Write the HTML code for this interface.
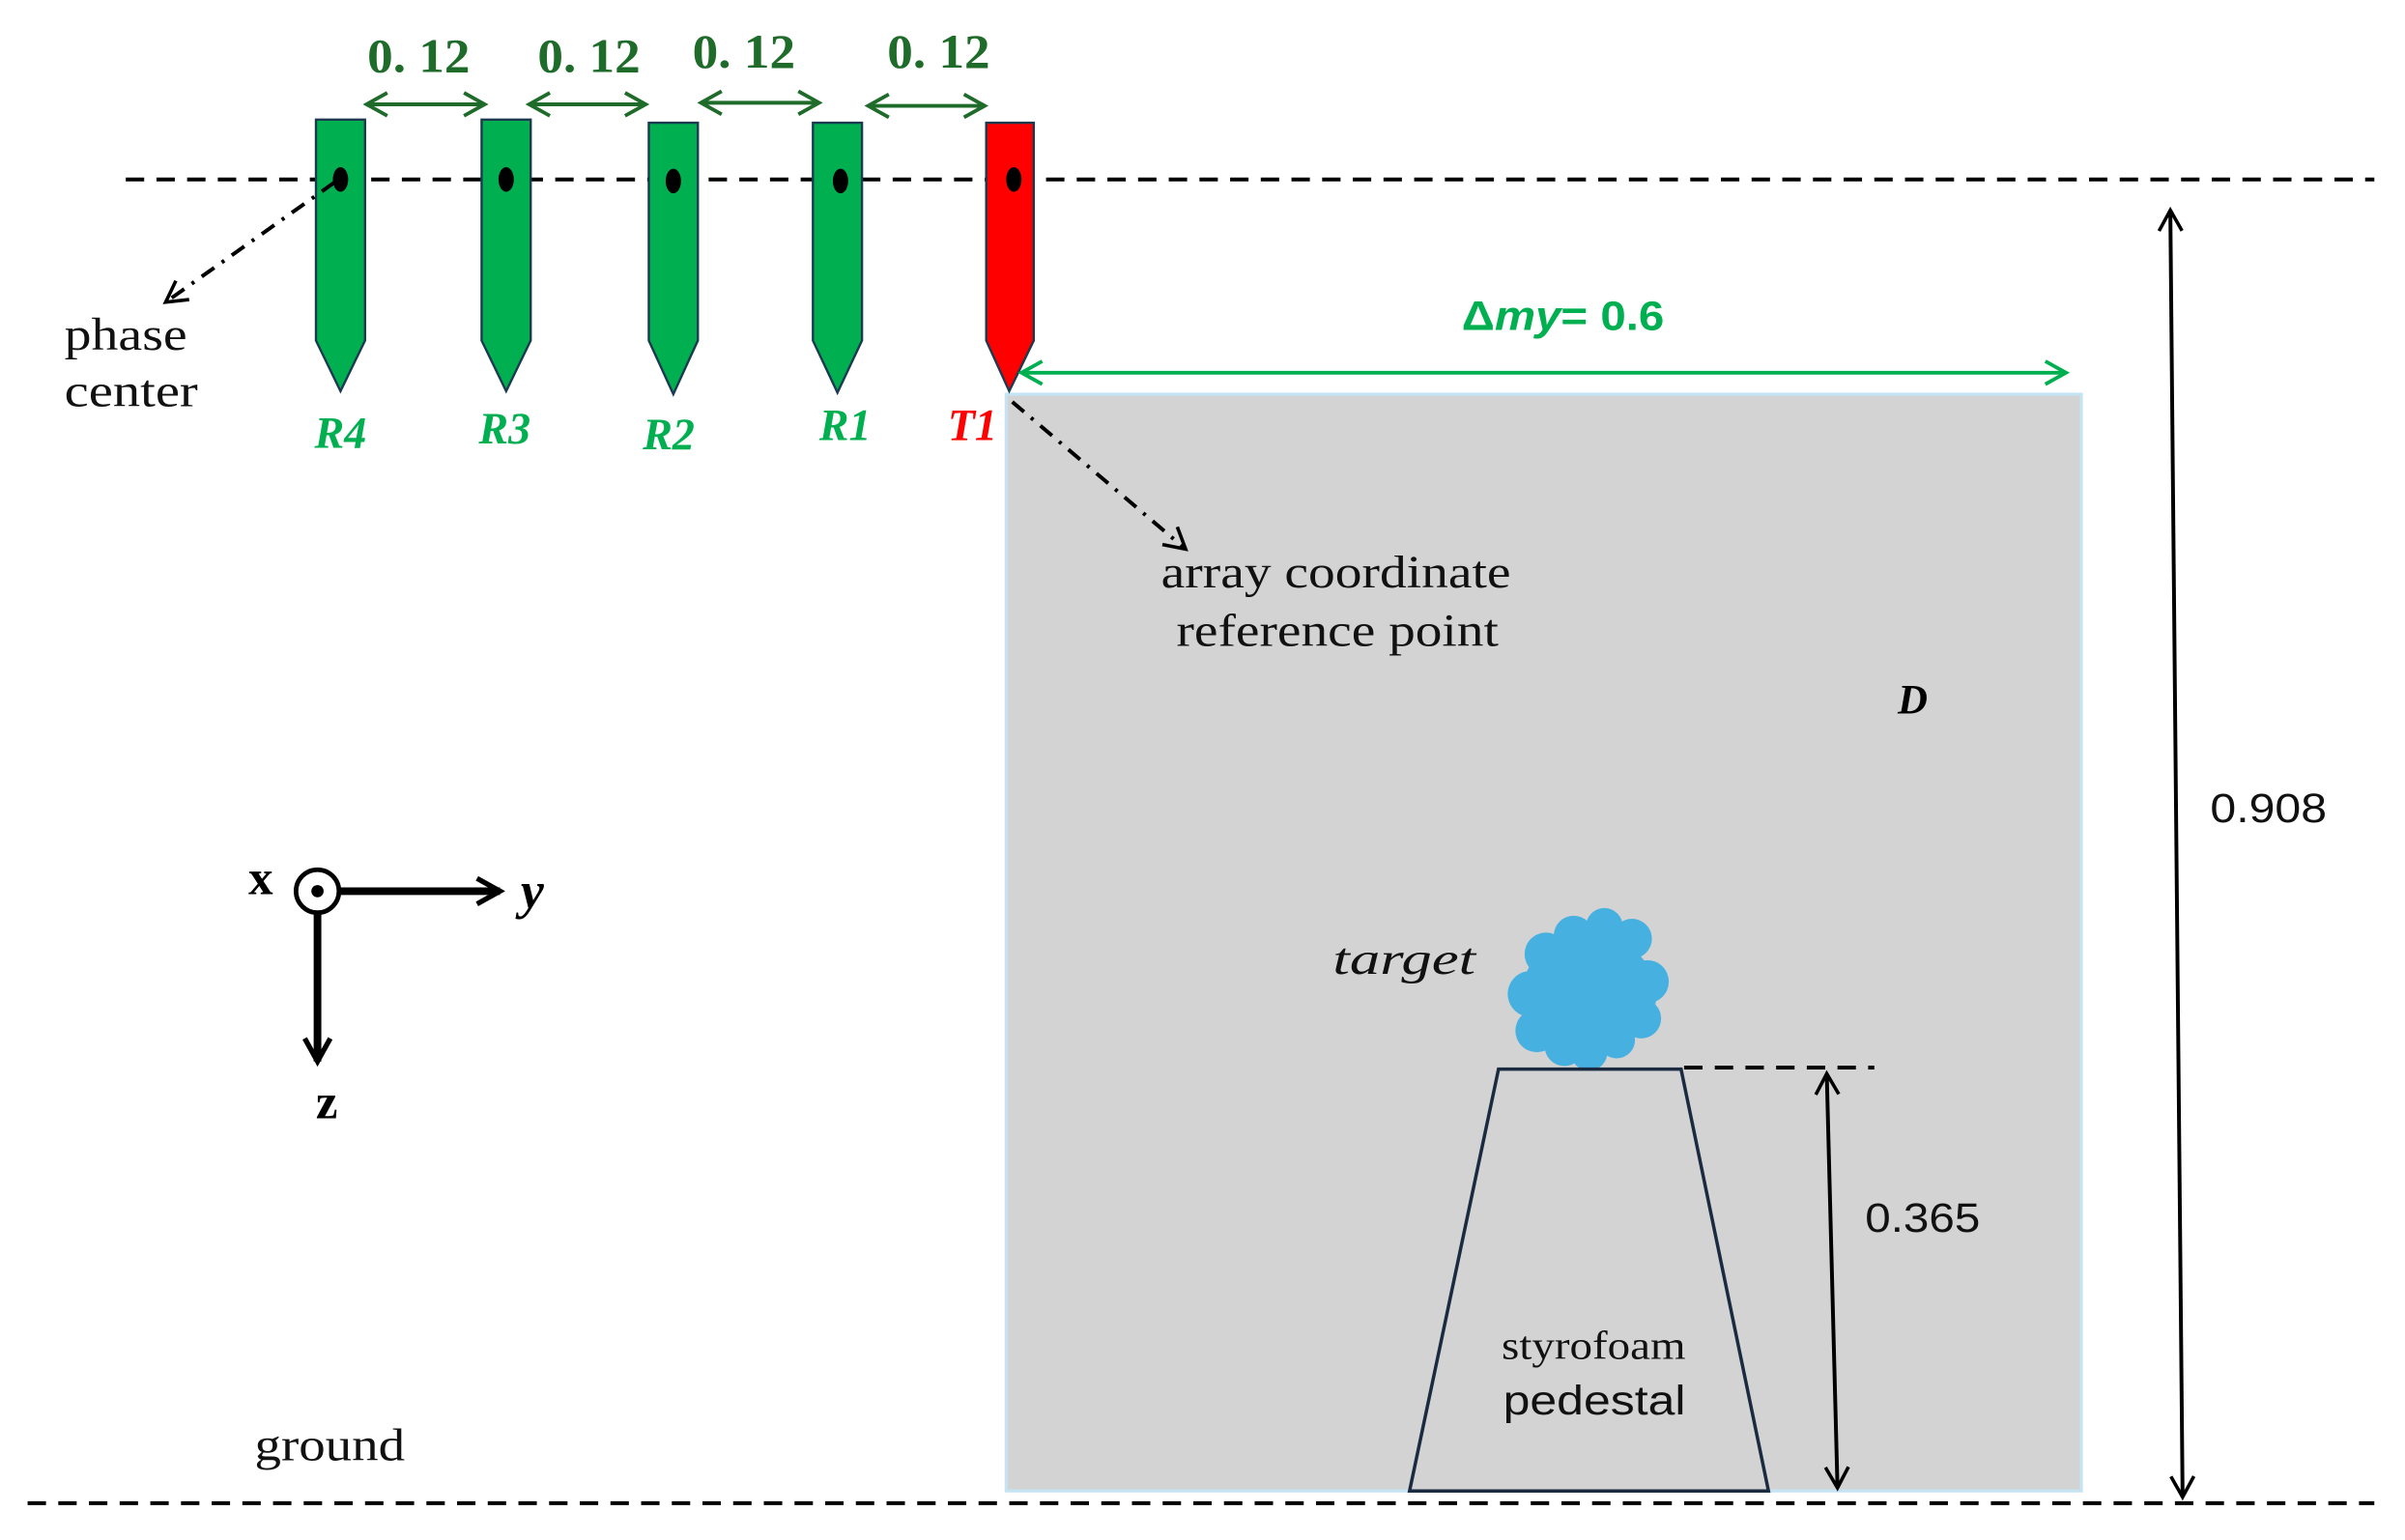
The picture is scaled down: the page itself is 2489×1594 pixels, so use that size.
<!DOCTYPE html>
<html><head><meta charset="utf-8"><style>
html,body{margin:0;padding:0;background:#fff;}
svg{display:block;}
</style></head><body>
<svg width="2489" height="1594" viewBox="0 0 1568 1004" preserveAspectRatio="none" xmlns="http://www.w3.org/2000/svg">
<defs>
<marker id="abk" viewBox="0 0 12 12" refX="10" refY="6" markerWidth="18" markerHeight="18" orient="auto-start-reverse" markerUnits="userSpaceOnUse"><path d="M1,1 L10,6 L1,11" fill="none" stroke="#000" stroke-width="1.5"/></marker>
<marker id="ag" viewBox="0 0 12 12" refX="10" refY="6" markerWidth="18" markerHeight="18" orient="auto-start-reverse" markerUnits="userSpaceOnUse"><path d="M1,1 L10,6 L1,11" fill="none" stroke="#1e6b2a" stroke-width="1.6"/></marker>
<marker id="al" viewBox="0 0 12 12" refX="10" refY="6" markerWidth="18" markerHeight="18" orient="auto-start-reverse" markerUnits="userSpaceOnUse"><path d="M1,1 L10,6 L1,11" fill="none" stroke="#00b050" stroke-width="1.6"/></marker>
<marker id="ax" viewBox="0 0 12 12" refX="10" refY="6" markerWidth="20" markerHeight="20" orient="auto" markerUnits="userSpaceOnUse"><path d="M1,1 L10,6 L1,11" fill="none" stroke="#000" stroke-width="2"/></marker>
</defs>
<rect x="656" y="257" width="701" height="715" fill="#d3d3d3" stroke="#c4e4f4" stroke-width="2"/>
<line x1="82" y1="117" x2="1548" y2="117" stroke="#000" stroke-width="2.5" stroke-dasharray="12,8"/>
<line x1="18" y1="980" x2="1548" y2="980" stroke="#000" stroke-width="2.5" stroke-dasharray="12,8"/>
<g stroke="#1b3a4f" stroke-width="1.5">
<path d="M206,78 H238 V222 L222,255 L206,222 Z" fill="#00b050"/>
<path d="M314,78 H346 V222 L330,255 L314,222 Z" fill="#00b050"/>
<path d="M423,80 H455 V222 L439,257 L423,222 Z" fill="#00b050"/>
<path d="M530,80 H562 V222 L546,256 L530,222 Z" fill="#00b050"/>
<path d="M643,80 H674 V222 L658,255 L643,222 Z" fill="#ff0000"/>
</g>
<g fill="#000">
<ellipse cx="222" cy="117" rx="5" ry="8"/><ellipse cx="330" cy="117" rx="5" ry="8"/><ellipse cx="439" cy="118" rx="5" ry="8"/><ellipse cx="548" cy="118" rx="5" ry="8"/><ellipse cx="661" cy="117" rx="5" ry="8"/>
</g>
<g stroke="#1e6b2a" stroke-width="2.5" marker-start="url(#ag)" marker-end="url(#ag)">
<line x1="239" y1="68" x2="316" y2="68"/><line x1="345" y1="68" x2="421" y2="68"/><line x1="457" y1="67" x2="534" y2="67"/><line x1="566" y1="69" x2="642" y2="69"/>
</g>
<g font-family="'Liberation Serif',serif" font-weight="bold" font-size="31" fill="#1e6b2a" text-anchor="middle" lengthAdjust="spacingAndGlyphs">
<text x="273" y="47" textLength="67" lengthAdjust="spacingAndGlyphs">0. 12</text><text x="384" y="47" textLength="67" lengthAdjust="spacingAndGlyphs">0. 12</text><text x="485" y="44" textLength="67" lengthAdjust="spacingAndGlyphs">0. 12</text><text x="612" y="44" textLength="67" lengthAdjust="spacingAndGlyphs">0. 12</text>
</g>
<g font-family="'Liberation Serif',serif" font-weight="bold" font-style="italic" font-size="29" fill="#00b050" text-anchor="middle">
<text x="222" y="292">R4</text><text x="329" y="289">R3</text><text x="436" y="293">R2</text><text x="551" y="287">R1</text><text x="634" y="287" fill="#ff0000">T1</text>
</g>
<line x1="218" y1="119" x2="108" y2="197" stroke="#000" stroke-width="2.5" stroke-dasharray="10,6,2,6" marker-end="url(#abk)"/>
<g font-family="'Liberation Serif',serif" font-size="30" fill="#111">
<text x="42" y="228" textLength="80" lengthAdjust="spacingAndGlyphs">phase</text><text x="42" y="265" textLength="87" lengthAdjust="spacingAndGlyphs">center</text>
<text x="757" y="383" textLength="228" lengthAdjust="spacingAndGlyphs">array coordinate</text><text x="767" y="421" textLength="210" lengthAdjust="spacingAndGlyphs">reference point</text>
<text x="166" y="952" textLength="98" lengthAdjust="spacingAndGlyphs">ground</text>
</g>
<text x="953" y="215" textLength="132" lengthAdjust="spacingAndGlyphs" font-family="'Liberation Sans',sans-serif" font-weight="bold" font-size="27" fill="#00b050">Δ<tspan font-style="italic">my</tspan>= 0.6</text>
<line x1="666" y1="243" x2="1347" y2="243" stroke="#00b050" stroke-width="2.5" marker-start="url(#al)" marker-end="url(#al)"/>
<line x1="660" y1="262" x2="773" y2="358" stroke="#000" stroke-width="2.5" stroke-dasharray="10,6,2,6" marker-end="url(#abk)"/>
<text x="1247" y="465" font-family="'Liberation Serif',serif" font-weight="bold" font-style="italic" font-size="27" fill="#000" text-anchor="middle">D</text>
<line x1="1415" y1="137" x2="1423" y2="976" stroke="#000" stroke-width="2.5" marker-start="url(#abk)" marker-end="url(#abk)"/>
<text x="1441" y="536" textLength="76" lengthAdjust="spacingAndGlyphs" font-family="'Liberation Sans',sans-serif" font-size="27" fill="#111">0.908</text>
<circle cx="207" cy="581" r="14" fill="none" stroke="#000" stroke-width="3"/>
<circle cx="207" cy="581" r="4" fill="#000"/>
<line x1="221" y1="581" x2="326" y2="581" stroke="#000" stroke-width="5" marker-end="url(#ax)"/>
<line x1="207" y1="595" x2="207" y2="692" stroke="#000" stroke-width="5" marker-end="url(#ax)"/>
<text x="170" y="583" font-family="'Liberation Serif',serif" font-weight="bold" font-size="32" text-anchor="middle">x</text>
<text x="347" y="592" font-family="'Liberation Serif',serif" font-weight="bold" font-style="italic" font-size="34" text-anchor="middle">y</text>
<text x="213" y="729" font-family="'Liberation Serif',serif" font-weight="bold" font-size="32" text-anchor="middle">z</text>
<text x="869" y="635" textLength="93" lengthAdjust="spacingAndGlyphs" font-family="'Liberation Serif',serif" font-style="italic" font-size="29" fill="#111">target</text>
<g fill="#46b0e0">
<ellipse cx="1036" cy="648" rx="44" ry="38"/>
<circle cx="1008" cy="622" r="14"/><circle cx="1026" cy="610" r="13"/><circle cx="1046" cy="604" r="12"/><circle cx="1064" cy="612" r="13"/>
<circle cx="1074" cy="640" r="14"/><circle cx="1070" cy="664" r="13"/><circle cx="998" cy="648" r="15"/><circle cx="1002" cy="672" r="14"/>
<circle cx="1020" cy="682" r="13"/><circle cx="1036" cy="686" r="12"/><circle cx="1054" cy="678" r="12"/>
</g>
<path d="M977,697 H1096 L1153,972 H919 Z" fill="none" stroke="#1a2a40" stroke-width="2.2"/>
<line x1="1098" y1="696" x2="1222" y2="696" stroke="#000" stroke-width="2.5" stroke-dasharray="12,8"/>
<line x1="1191" y1="700" x2="1198" y2="970" stroke="#000" stroke-width="2.5" marker-start="url(#abk)" marker-end="url(#abk)"/>
<text x="1216" y="803" textLength="75" lengthAdjust="spacingAndGlyphs" font-family="'Liberation Sans',sans-serif" font-size="27" fill="#111">0.365</text>
<text x="979" y="886" textLength="120" lengthAdjust="spacingAndGlyphs" font-family="'Liberation Serif',serif" font-size="26" fill="#111">styrofoam</text>
<text x="980" y="922" textLength="119" lengthAdjust="spacingAndGlyphs" font-family="'Liberation Sans',sans-serif" font-size="27" fill="#111">pedestal</text>
</svg>
</body></html>
